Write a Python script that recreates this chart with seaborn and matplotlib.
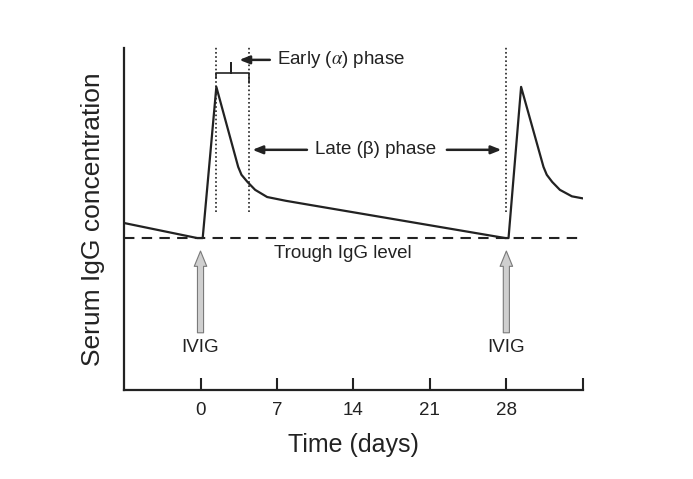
import matplotlib
matplotlib.use("Agg")
import matplotlib.pyplot as plt
import seaborn as sns
import pandas as pd

# IgG concentration curve (arbitrary units, 0-100) over time in days
days = [-7, -0.3, 0.2, 1.45, 3.45, 3.75, 4.3, 5.0, 6.1, 7.8, 10.0, 27.9,
        28.2, 29.35, 31.4, 31.7, 32.2, 32.9, 34.0, 35.0]
igg = [48.8, 44.4, 44.4, 88.6, 65.2, 62.9, 60.8, 58.5, 56.4, 55.3, 54.1, 44.4,
       44.4, 88.6, 65.2, 62.9, 60.8, 58.5, 56.6, 56.0]

trough = 44.4
dose_days = [0, 28]
phase_lines = [1.45, 4.4, 28.0]
xticks = [0, 7, 14, 21, 28, 35]
xtick_labels = ["0", "7", "14", "21", "28", ""]

df = pd.DataFrame({"day": days, "igg": igg})

sns.set_theme(style="white")
plt.rcParams["font.family"] = ["Liberation Sans", "DejaVu Sans"]
plt.rcParams["mathtext.fontset"] = "stix"
ink = "#222222"

fig = plt.figure(figsize=(6.93, 4.79), dpi=100)
ax = fig.add_axes([0.179, 0.186, 0.662, 0.714])

sns.lineplot(data=df, x="day", y="igg", ax=ax, color=ink, lw=1.6,
             estimator=None, sort=False)

# trough level
ax.plot([-7, 35], [trough, trough], color=ink, lw=1.5, ls=(0, (5, 3.5)))
ax.text(13.05, 40, "Trough IgG level", ha="center", va="center",
        fontsize=13.5, color=ink)

# phase boundary dotted lines
for xv in phase_lines:
    ax.plot([xv, xv], [52, 100.5], color=ink, lw=1.2, ls=(0, (1, 1.5)),
            clip_on=False)

# brace over early phase
bl, br = phase_lines[0], phase_lines[1]
bm = (bl + br) / 2 - 0.1
ax.plot([bl, bl, bm, bm, bm, br, br], [91.2, 92.7, 92.7, 95.6, 92.7, 92.7, 89.8],
        color=ink, lw=1.2)

# Early phase label
ax.annotate("", xy=(3.3, 96.5), xytext=(6.6, 96.5),
            arrowprops=dict(arrowstyle="-|>,head_length=0.5,head_width=0.2",
                            color=ink, lw=1.8))
ax.text(7.0, 96.5, r"Early ($\alpha$) phase", ha="left", va="center",
        fontsize=13.5, color=ink)

# Late phase label
ax.annotate("", xy=(4.5, 70.2), xytext=(10.0, 70.2),
            arrowprops=dict(arrowstyle="-|>,head_length=0.5,head_width=0.2",
                            color=ink, lw=1.8))
ax.annotate("", xy=(27.8, 70.2), xytext=(22.3, 70.2),
            arrowprops=dict(arrowstyle="-|>,head_length=0.5,head_width=0.2",
                            color=ink, lw=1.8))
ax.text(16.0, 70.2, "Late (β) phase", ha="center", va="center",
        fontsize=13.5, color=ink)

# IVIG dose arrows
for d in dose_days:
    ax.annotate("", xy=(d, 40.6), xytext=(d, 16.7),
                arrowprops=dict(arrowstyle="simple,head_length=0.55,head_width=0.45,tail_width=0.22",
                                fc="#cfcfcf", ec="#7a7a7a", lw=0.8,
                                mutation_scale=20, shrinkA=0, shrinkB=0))
    ax.text(d, 12.3, "IVIG", ha="center", va="center", fontsize=13.5,
            color=ink)

ax.set_xlim(-7, 35)
ax.set_ylim(0, 100)
ax.set_xticks(xticks)
ax.set_xticklabels(xtick_labels)
ax.set_yticks([])
ax.tick_params(axis="x", direction="in", length=9, width=1.5, pad=9,
               labelsize=13.5, colors=ink, bottom=True)
ax.set_xlabel("Time (days)", fontsize=18, color=ink, labelpad=10)
ax.set_ylabel("Serum IgG concentration", fontsize=19, color=ink, labelpad=14)

sns.despine(ax=ax)
for side in ["left", "bottom"]:
    ax.spines[side].set_color(ink)
    ax.spines[side].set_linewidth(1.6)

fig.savefig("out.png", dpi=100, facecolor="white")
